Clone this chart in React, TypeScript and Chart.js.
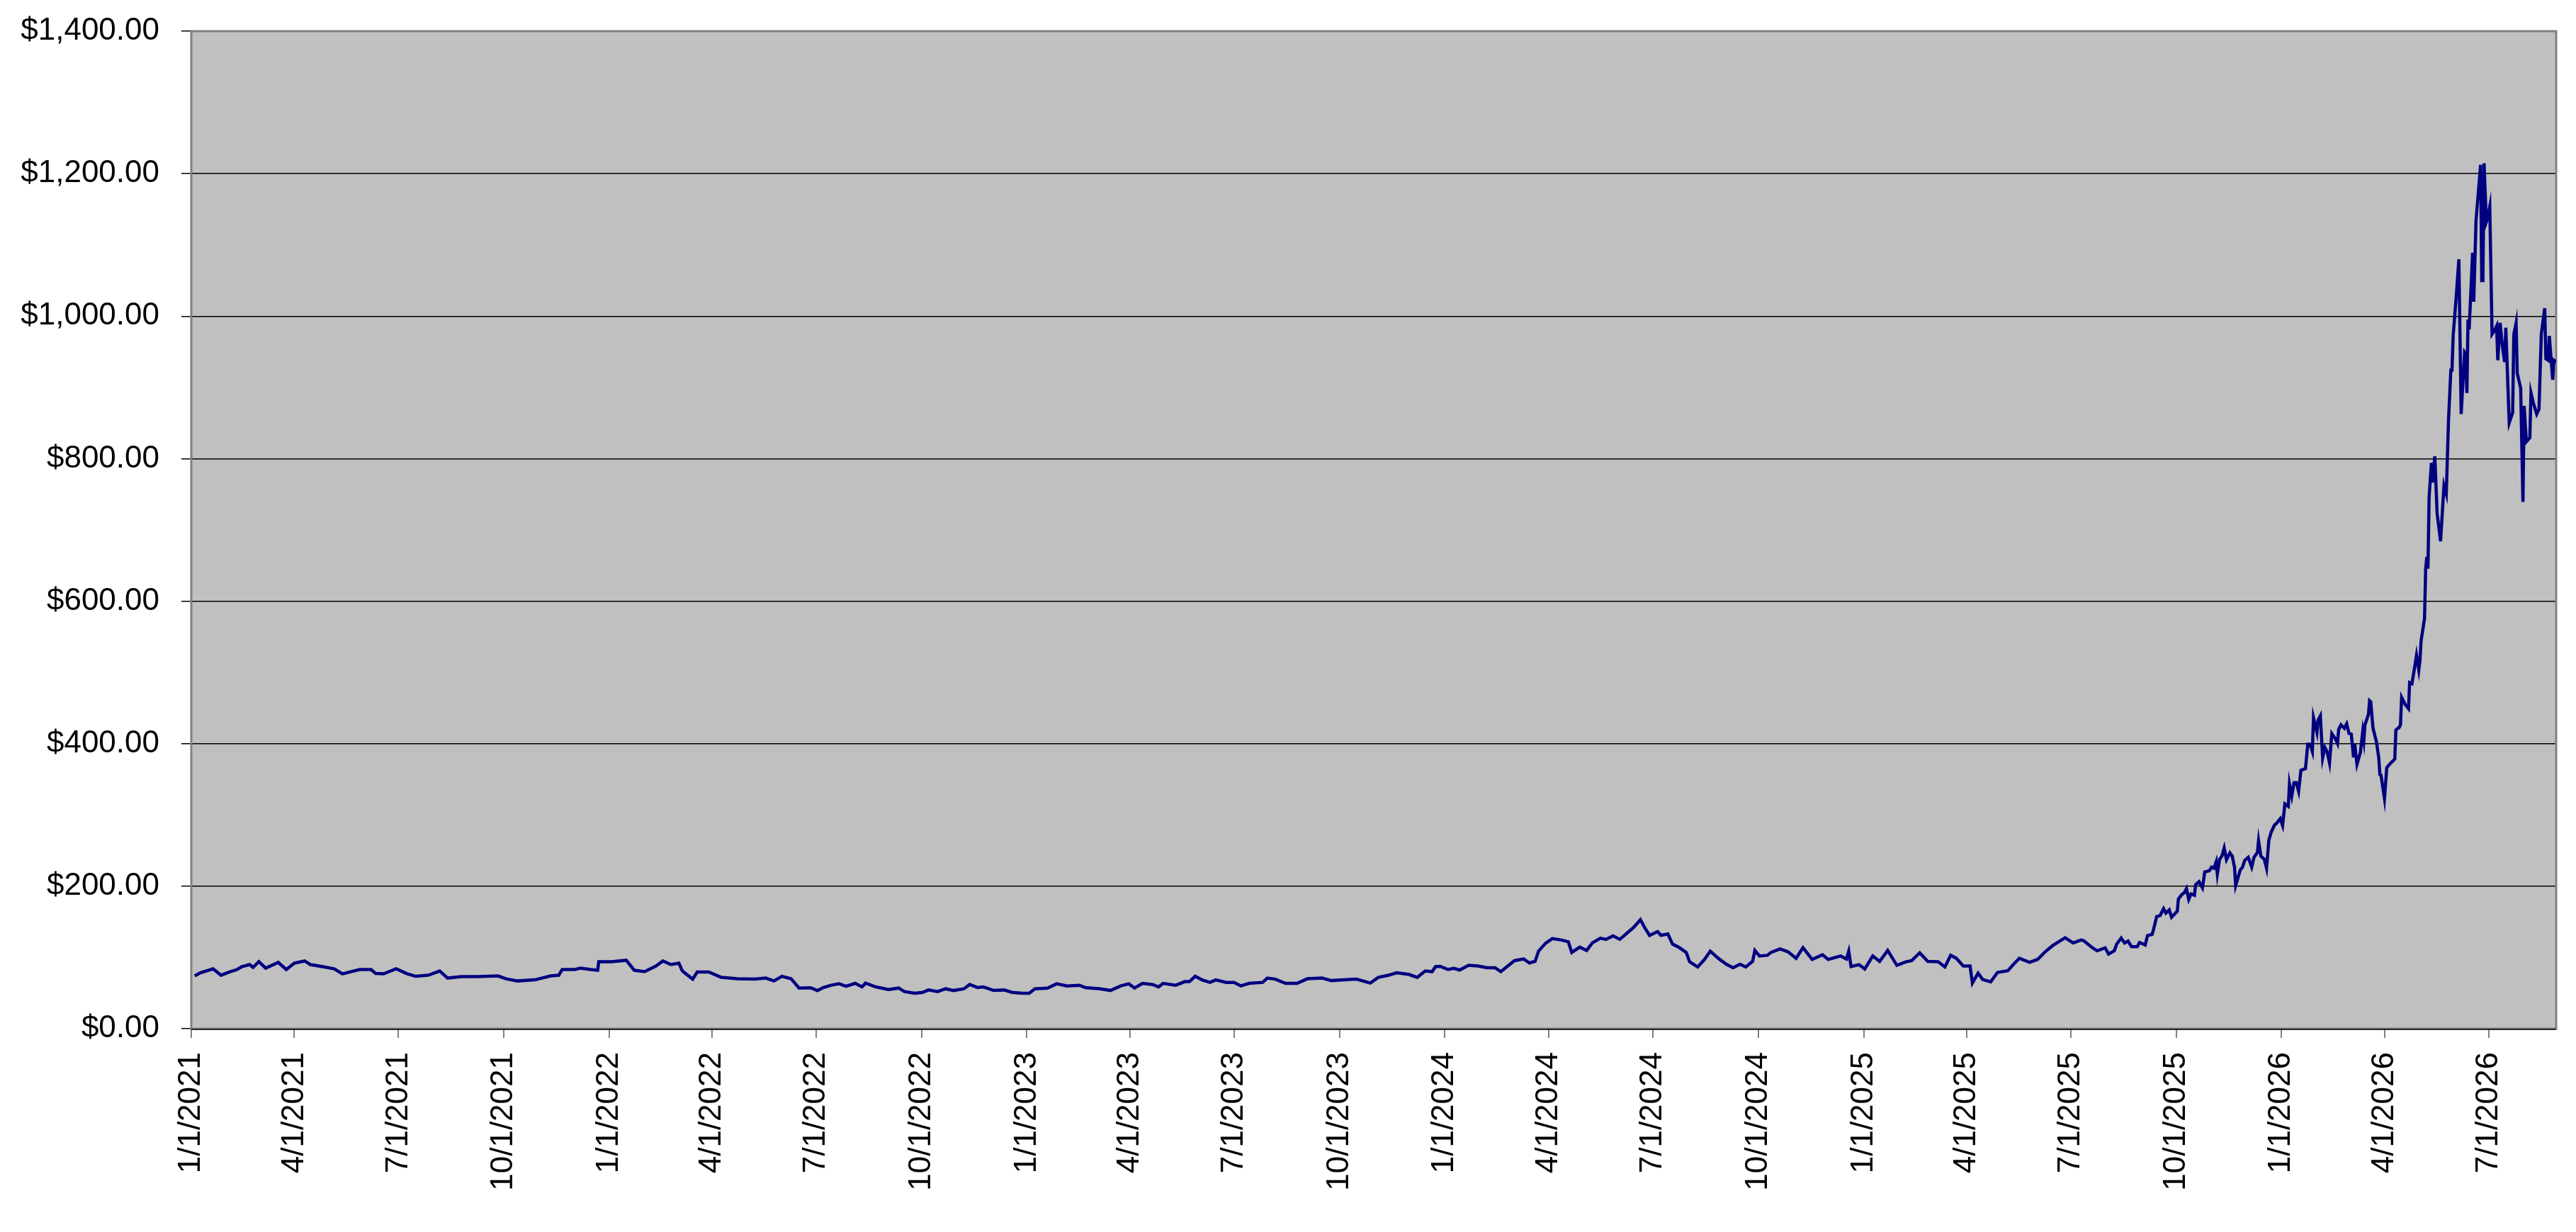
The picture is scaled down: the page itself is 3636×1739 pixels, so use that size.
import { useEffect, useRef } from "react"
import { Chart, registerables } from "chart.js"

Chart.register(...registerables)

// x values are days counted from 1/1/2021 (like an Excel date serial)
const axisStart = "1/1/2021"
const axisEndDay = 2066

const tickLabels = [
  "1/1/2021", "4/1/2021", "7/1/2021", "10/1/2021",
  "1/1/2022", "4/1/2022", "7/1/2022", "10/1/2022",
  "1/1/2023", "4/1/2023", "7/1/2023", "10/1/2023",
  "1/1/2024", "4/1/2024", "7/1/2024", "10/1/2024",
  "1/1/2025", "4/1/2025", "7/1/2025", "10/1/2025",
  "1/1/2026", "4/1/2026", "7/1/2026",
]

const tradingDays = [
  3, 8, 19, 26, 33, 40, 44, 51, 54, 59,
  65, 76, 83, 90, 99, 104, 115, 125, 132, 147,
  157, 161, 168, 179, 188, 196, 207, 217, 224, 236,
  250, 268, 275, 285, 300, 314, 321, 324, 335, 340,
  349, 355, 356, 367, 380, 387, 396, 406, 412, 419,
  426, 429, 438, 442, 452, 463, 477, 492, 502, 509,
  516, 524, 531, 541, 547,
  552, 559, 566, 572, 580, 586, 589, 598, 609, 618,
  623, 632, 639, 644, 652, 659, 666, 675, 680, 687,
  692, 701, 710, 717, 726, 732, 737, 748, 756, 765,
  776, 781, 794, 803, 812, 819, 824, 831, 840, 845,
  849, 860, 868, 872, 877, 883, 890, 895, 904, 911,
  917, 924, 936, 940, 947, 956, 966, 975, 988, 996,
  1007, 1018, 1030, 1037, 1046, 1053, 1064, 1071, 1078, 1084,
  1087, 1091, 1098,
  1103, 1108, 1116, 1124, 1132, 1139, 1144, 1149, 1156, 1164,
  1169, 1174, 1177, 1183, 1189, 1197, 1203, 1206, 1213, 1219,
  1224, 1231, 1236, 1242, 1248, 1254, 1260, 1266, 1270, 1274,
  1281, 1284, 1290, 1294, 1300, 1306, 1309, 1316, 1322, 1327,
  1334, 1341, 1347, 1353, 1358, 1364, 1366, 1370, 1377, 1380,
  1388, 1395, 1402, 1408, 1416, 1425, 1430, 1441, 1446, 1448,
  1450, 1457, 1462, 1469, 1475, 1482, 1490, 1498, 1503, 1510,
  1517, 1526, 1532, 1537, 1542, 1548, 1554, 1556, 1561, 1565,
  1572, 1578, 1587, 1592, 1597, 1606, 1613, 1619, 1626, 1637,
  1644, 1651,
  1653, 1657, 1661, 1665, 1672, 1675, 1680, 1682, 1686, 1689,
  1692, 1695, 1700, 1702, 1707, 1709, 1713, 1714, 1717, 1720,
  1723, 1725, 1728, 1730, 1735, 1736, 1739, 1741, 1743, 1745,
  1747, 1750, 1751, 1754, 1757, 1759, 1763, 1765, 1767, 1769,
  1770, 1772, 1774, 1776, 1778, 1781, 1783, 1785, 1786, 1790,
  1792, 1794, 1797, 1800, 1802, 1805, 1806, 1808, 1811, 1813,
  1815, 1817, 1820, 1822, 1825, 1827, 1829, 1832, 1833, 1835,
  1837, 1839, 1841, 1843, 1847, 1849, 1851, 1853, 1854, 1857,
  1858, 1860, 1862, 1864, 1866, 1868, 1870, 1873, 1875, 1876,
  1878, 1881, 1883, 1885, 1887, 1889, 1890, 1892, 1895, 1897,
  1898, 1899, 1902, 1903, 1904, 1906, 1909, 1911, 1912, 1913,
  1916, 1918, 1921, 1925, 1926, 1929, 1930, 1931, 1934, 1937,
  1938, 1940, 1942, 1944, 1946, 1947, 1948, 1951, 1952, 1953,
  1954, 1955, 1957, 1958, 1960, 1962, 1965, 1968, 1970, 1972,
  1974, 1975, 1976, 1979, 1981, 1983, 1986, 1987, 1988, 1989,
  1990, 1993, 1994, 1996, 2000, 2001, 2002, 2003, 2005, 2006,
  2008, 2010, 2012, 2014, 2015, 2017, 2019, 2021, 2022, 2025,
  2028, 2029, 2031, 2032, 2035, 2037, 2038, 2040, 2043, 2044,
  2046, 2049, 2051, 2053, 2056, 2057, 2059, 2060, 2061, 2063,
  2064, 2066,
]

const closePrices = [
  74, 78.5, 84, 75, 79.5, 83, 87, 90, 86, 94,
  85, 93, 83, 92, 95, 90, 87, 84, 77, 83,
  83, 77.5, 77, 84, 77.5, 73.5, 75, 81, 71, 73,
  73, 74, 70, 67, 68.5, 74, 75, 83, 83, 85,
  83, 82, 94, 94, 96, 82, 80, 88, 95, 90,
  92, 81, 69.5, 79.5, 79.5, 72, 70, 69.5, 71, 67,
  73.5, 70, 57, 57.5, 53.5,
  57.6, 61, 63, 59.6, 63.6, 58.6, 64, 58.6, 55, 57,
  52, 49.7, 51, 54.3, 52, 56, 53.6, 56, 62, 57.6,
  58.6, 53.6, 54.3, 51, 49.7, 49.7, 56, 57, 63, 60,
  61, 57.6, 56, 53.6, 60, 63, 57, 63.6, 62, 58.6,
  63.6, 61, 66, 66, 73.5, 68.5, 65, 68.5, 65, 65,
  60, 63.6, 65, 71, 69.5, 63.6, 63.6, 70, 71, 67.5,
  68.5, 69.5, 64, 72, 75, 78.5, 76, 72, 81, 80,
  87, 87.5, 83,
  84.6, 82.3, 88.9, 87.9, 85.6, 85.6, 80, 86.6, 95.5, 97.8,
  92.2, 94.5, 108.8, 119.7, 126.4, 124.4, 122, 107, 114.4, 109.8,
  120.4, 127, 125.4, 130.3, 125.4, 133.7, 142, 152.9, 141, 131,
  136.3, 131, 133, 118.7, 113.8, 107, 93.9, 86.6, 97.2, 108.8,
  98.8, 90.5, 85.6, 90.5, 86.6, 94.5, 109.8, 102, 103, 107,
  112, 107.8, 98.8, 113.8, 97.2, 103.8, 97.2, 102, 97.8, 108.8,
  87.2, 89.9, 83.9, 102, 94.5, 109.8, 88.9, 93.9, 95.5, 106.5,
  94.5, 93.9, 86.6, 103, 98.8, 87.9, 87.9, 64, 77.9, 69,
  65.7, 79, 81.3, 90.5, 98.8, 93.2, 97.2, 107, 116.4, 127.7,
  120.4, 124.4,
  123.7, 118.6, 113.4, 109.3, 113.4, 104.8, 109.3, 118.6, 127.1, 120.3,
  123, 115.1, 115.1, 121, 117.5, 130.6, 132.3, 137.5, 157.4, 158.8,
  168.4, 162.2, 166.7, 156.4, 164.9, 182.1, 188.3, 190.7, 196.6, 181.4,
  189, 187.3, 202, 206.2, 197.6, 219.9, 221.6, 226.8, 225.1, 234.4,
  217.2, 237.8, 242.3, 253.6, 237.1, 246.7, 242.3, 226.8, 201, 222.7,
  226.8, 236.4, 240.5, 226.8, 240.5, 247.4, 263.9, 242.3, 237.8, 225.1,
  264.6, 275.6, 285.9, 288.7, 294.8, 285.2, 315.5, 312, 343.6, 326.5,
  345.4, 345.4, 333.3, 362.5, 365, 399.3, 399.3, 389, 436.4, 415.8,
  433, 439.2, 379.7, 394.5, 388.3, 372.9, 414.1, 407.2, 400.3, 419.9,
  426.5, 421.7, 427.9, 414.4, 413.5, 380.7, 400, 371.1, 388, 416.8,
  404.8, 426.5, 440.9, 460.2, 458.7, 421.7, 402.4, 380.7, 356.7, 355.7,
  323, 366.3, 372.1, 378.3, 419.3, 423.1, 426.5, 465, 455.4, 449.1,
  485.7, 484.2, 503.5, 524.2, 503.5, 516.5, 544.4, 575.7, 645.5, 662.3,
  645.5, 746, 794, 766.6, 803.2, 723.2, 684, 762.1, 750.6, 855.8,
  924.3, 924.3, 972.3, 1034, 1079.8, 862.6, 949.5, 947.2, 892.3, 995.2,
  981.5, 1088.9, 1020.3, 1134.6, 1212.3, 1050.1, 1050.1, 1214.6, 1132.3, 1136.9,
  1153.8, 974.6, 979.2, 986.1, 938.1, 990.6, 958.6, 935.8, 983.8, 850.3,
  864.9, 974.3, 990.6, 919.8, 899.2, 739.2, 874, 823.8, 829.3, 892.3,
  878.6, 862.6, 869.5, 974.6, 1011.2, 940.3, 938.1, 972.3, 951.8, 910.6,
  938.1, 935.8,
]

const font = { family: "'Liberation Sans', Arial, sans-serif", size: 44 }

function toDays(label: string) {
  const [m, d, y] = label.split("/").map(Number)
  const [m0, d0, y0] = axisStart.split("/").map(Number)
  return Math.round((Date.UTC(y, m - 1, d) - Date.UTC(y0, m0 - 1, d0)) / 86400000)
}

const tickDays = tickLabels.map(toDays)

// grey plot area with an Excel-like frame
const plotFrame = {
  id: "plotFrame",
  beforeDraw(chart: any) {
    const { ctx, chartArea: a } = chart
    ctx.save()
    ctx.fillStyle = "#C0C0C0"
    ctx.fillRect(a.left, a.top, a.right - a.left, a.bottom - a.top)
    ctx.restore()
  },
  beforeDatasetsDraw(chart: any) {
    const { ctx, chartArea: a } = chart
    ctx.save()
    ctx.strokeStyle = "#808080"
    ctx.lineWidth = 3
    ctx.strokeRect(a.left, a.top, a.right - a.left, a.bottom - a.top)
    ctx.strokeStyle = "#000000"
    ctx.lineWidth = 1.5
    ctx.beginPath()
    ctx.moveTo(a.left, a.bottom + 1)
    ctx.lineTo(a.right, a.bottom + 1)
    ctx.stroke()
    ctx.restore()
  },
}

export default function App() {
  const chartRef = useRef<HTMLCanvasElement>(null)
  const chartInstance = useRef<Chart | null>(null)

  useEffect(() => {
    if (!chartRef.current) return
    if (chartInstance.current) chartInstance.current.destroy()

    chartInstance.current = new Chart(chartRef.current, {
      type: "line",
      data: {
        datasets: [
          {
            label: "Price",
            data: tradingDays.map((d, i) => ({ x: d, y: closePrices[i] })),
            borderColor: "#000080",
            borderWidth: 4.5,
            pointRadius: 0,
            tension: 0,
            fill: false,
          },
        ],
      },
      options: {
        animation: false,
        responsive: true,
        maintainAspectRatio: false,
        layout: { padding: { left: 0, right: 20, top: 36, bottom: 0 } },
        plugins: {
          legend: { display: false },
          tooltip: { enabled: false },
        },
        scales: {
          x: {
            type: "linear",
            min: 0,
            max: axisEndDay,
            afterBuildTicks: (scale: any) => {
              scale.ticks = tickDays.map((v) => ({ value: v }))
            },
            afterFit: (scale: any) => {
              scale.height = 276
            },
            grid: {
              drawOnChartArea: false,
              drawTicks: true,
              tickLength: 13,
              color: "#808080",
              lineWidth: 2,
            },
            border: { display: false },
            ticks: {
              autoSkip: false,
              minRotation: 90,
              maxRotation: 90,
              padding: 20,
              color: "#000000",
              font,
              callback: (value: any) => {
                const i = tickDays.indexOf(Number(value))
                return i >= 0 ? tickLabels[i] : ""
              },
            },
          },
          y: {
            min: 0,
            max: 1400,
            afterFit: (scale: any) => {
              scale.width = 262
              // let the layout padding alone decide the top edge
              scale.paddingTop = 0
              scale.paddingBottom = 0
            },
            grid: {
              color: "#000000",
              lineWidth: 1.5,
              tickLength: 14,
            },
            border: { display: false },
            ticks: {
              stepSize: 200,
              padding: 31,
              color: "#000000",
              font,
              callback: (value: any) =>
                "$" +
                Number(value).toLocaleString("en-US", {
                  minimumFractionDigits: 2,
                  maximumFractionDigits: 2,
                }),
            },
          },
        },
      },
      plugins: [plotFrame],
    })

    return () => {
      if (chartInstance.current) {
        chartInstance.current.destroy()
        chartInstance.current = null
      }
    }
  }, [])

  return (
    <div style={{ width: 3620, height: 1720, position: "relative" }}>
      <canvas ref={chartRef}></canvas>
    </div>
  )
}
